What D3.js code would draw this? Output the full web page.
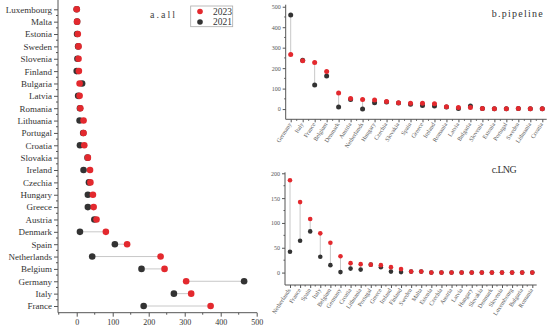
<!DOCTYPE html>
<html><head><meta charset="utf-8">
<script src="https://cdn.jsdelivr.net/npm/d3@7"></script>
<style>body{margin:0;background:#fff} svg{display:block} text{font-family:"Liberation Serif","DejaVu Serif",serif}</style>
</head><body><svg id="c" width="550" height="331"></svg>
<script>
// ---- data ----
const countriesAll = ["Luxembourg","Malta","Estonia","Sweden","Slovenia","Finland","Bulgaria","Latvia","Romania","Lithuania","Portugal","Croatia","Slovakia","Ireland","Czechia","Hungary","Greece","Austria","Denmark","Spain","Netherlands","Belgium","Germany","Italy","France"];
const all2023 = [0,1,3,5,5,6,8,8,10,19,19,21,31,37,38,45,47,55,81,140,233,244,304,318,372];
const all2021 = [0,1,1,4,2,0,15,4,9,8,18,9,30,19,34,31,31,49,9,106,43,180,465,270,186];

const pipeCountries = ["Germany","Italy","France","Belgium","Denmark","Austria","Netherlands","Hungary","Czechia","Slovakia","Spain","Greece","Ireland","Romania","Latvia","Bulgaria","Slovenia","Estonia","Portugal","Sweden","Lithuania","Croatia"];
const pipe2023 = [267,236,228,183,79,52,47,44,37,31,29,29,26,11,8,8,3,2,2,3,2,2];
const pipe2021 = [460,238,118,162,10,47,0,31,34,30,23,18,15,10,3,15,3,2,2,3,2,2];

const lngCountries = ["Netherlands","France","Spain","Italy","Belgium","Germany","Croatia","Lithuania","Portugal","Greece","Ireland","Finland","Sweden","Malta","Estonia","Czechia","Austria","Latvia","Hungary","Slovakia","Denmark","Slovenia","Luxembourg","Bulgaria","Romania"];
const lng2023 = [186,142,108,79,60,33,19,17,16,15,11,7,2,2,0,0,0,0,0,0,0,0,0,0,0];
const lng2021 = [42,64,83,32,15,1,8,6,16,11,2,1,2,2,0,0,0,0,0,0,0,0,0,0,0];

const xTicksAll = [0,100,200,300,400,500];
const yTicksPipe = [0,100,200,300,400,500];
const yTicksLng = [0,50,100,150,200];
const seriesNames = ["2023","2021"];

const RED = "#e3292e", DARK = "#333333", LINE = "#c8c8c8", AX = "#555";
const svg = d3.select("#c");

// ---- panel a ----
const ga = svg.append("g");
const xa = d3.scaleLinear().domain([-52,500]).range([58,256.7]);
const ya = d3.scalePoint().domain(countriesAll).range([9.3,306]);
const axYa = 312.7;

const ayAxis = ga.append("g").attr("transform","translate(58,0)")
  .call(d3.axisLeft(ya).tickSize(4).tickPadding(2));
ayAxis.select(".domain").remove();
ayAxis.selectAll("text").attr("font-size",9).attr("fill","#333");
ayAxis.selectAll("line").attr("stroke",AX);
const stepA = ya.step();
ga.selectAll(".mya").data(countriesAll.slice(0,-1)).join("line")
  .attr("x1",56).attr("x2",58).attr("y1",d=>ya(d)+stepA/2).attr("y2",d=>ya(d)+stepA/2).attr("stroke",AX);
ga.append("line").attr("x1",58).attr("x2",58).attr("y1",0).attr("y2",axYa).attr("stroke",AX);

const axXa = ga.append("g").attr("transform",`translate(0,${axYa})`)
  .call(d3.axisBottom(xa).tickValues(xTicksAll).tickSize(4).tickPadding(3));
axXa.select(".domain").remove();
axXa.selectAll("text").attr("font-size",8).attr("fill","#333");
axXa.selectAll("line").attr("stroke",AX);
ga.selectAll(".mxa").data([-50,50,150,250,350,450]).join("line")
  .attr("x1",d=>xa(d)).attr("x2",d=>xa(d)).attr("y1",axYa).attr("y2",axYa+2).attr("stroke",AX);
ga.append("line").attr("x1",58).attr("x2",257).attr("y1",axYa).attr("y2",axYa).attr("stroke",AX);

countriesAll.forEach((c,i)=>{
  ga.append("line").attr("x1",xa(all2021[i])).attr("x2",xa(all2023[i]))
    .attr("y1",ya(c)).attr("y2",ya(c)).attr("stroke",LINE).attr("stroke-width",1);
});
countriesAll.forEach((c,i)=>{
  ga.append("circle").attr("cx",xa(all2021[i])).attr("cy",ya(c)).attr("r",3.3).attr("fill",DARK);
});
countriesAll.forEach((c,i)=>{
  ga.append("circle").attr("cx",xa(all2023[i])).attr("cy",ya(c)).attr("r",3.3).attr("fill",RED);
});

ga.append("text").attr("x",150).attr("y",17.5).attr("font-size",10).attr("fill","#444")
  .attr("textLength",25).attr("lengthAdjust","spacing").text("a.all");
// legend
ga.append("rect").attr("x",190.7).attr("y",6).attr("width",42).attr("height",20.7)
  .attr("fill","#fff").attr("stroke","#aaa").attr("stroke-width",0.8);
[RED,DARK].forEach((col,i)=>{
  ga.append("circle").attr("cx",200).attr("cy",11.5+i*10.5).attr("r",2.8).attr("fill",col);
  ga.append("text").attr("x",232).attr("y",11.5+i*10.5).attr("dy","0.35em").attr("text-anchor","end")
    .attr("font-size",9.5).attr("fill","#333").text(seriesNames[i]);
});

// ---- generic dumbbell panel (b, c) ----
function panel(cats, v23, v21, yTicks, minorTicks, yDomain, yRange, xRange, xAxisEnd, axX, title, titleY, titleLen, r){
  const g = svg.append("g");
  const x = d3.scalePoint().domain(cats).range(xRange);
  const y = d3.scaleLinear().domain(yDomain).range(yRange);
  const axY = yRange[0];
  const yax = g.append("g").attr("transform",`translate(${axX},0)`)
    .call(d3.axisLeft(y).tickValues(yTicks).tickSize(3).tickPadding(2));
  yax.select(".domain").remove();
  yax.selectAll("text").attr("font-size",6).attr("fill","#555");
  yax.selectAll("line").attr("stroke",AX);
  g.selectAll(".my").data(minorTicks).join("line")
    .attr("x1",axX-1.5).attr("x2",axX).attr("y1",d=>y(d)).attr("y2",d=>y(d)).attr("stroke",AX);
  g.append("line").attr("x1",axX).attr("x2",axX).attr("y1",yRange[1]).attr("y2",axY).attr("stroke",AX);

  const xax = g.append("g").attr("transform",`translate(0,${axY})`)
    .call(d3.axisBottom(x).tickSize(3).tickPadding(2));
  xax.select(".domain").remove();
  xax.selectAll("line").attr("stroke",AX);
  xax.selectAll("text").attr("font-size",6).attr("fill","#555")
    .attr("text-anchor","end").attr("dy","0.3em")
    .attr("transform","translate(-1,4) rotate(-57)").attr("y",0).attr("x",0);
  const st = x.step();
  g.selectAll(".mx").data(cats.slice(0,-1)).join("line")
    .attr("x1",d=>x(d)+st/2).attr("x2",d=>x(d)+st/2).attr("y1",axY).attr("y2",axY+1.5).attr("stroke",AX);
  g.append("line").attr("x1",axX).attr("x2",xAxisEnd).attr("y1",axY).attr("y2",axY).attr("stroke",AX);

  cats.forEach((c,i)=>{
    g.append("line").attr("x1",x(c)).attr("x2",x(c)).attr("y1",y(v21[i])).attr("y2",y(v23[i]))
      .attr("stroke",LINE).attr("stroke-width",1);
  });
  cats.forEach((c,i)=>{
    g.append("circle").attr("cx",x(c)).attr("cy",y(v21[i])).attr("r",r).attr("fill",DARK);
  });
  cats.forEach((c,i)=>{
    g.append("circle").attr("cx",x(c)).attr("cy",y(v23[i])).attr("r",r).attr("fill",RED);
  });
  g.append("text").attr("x",491.7).attr("y",titleY).attr("dy","0.35em").attr("font-size",10)
    .attr("fill","#333").attr("textLength",titleLen).attr("lengthAdjust","spacing").text(title);
}

panel(pipeCountries, pipe2023, pipe2021, yTicksPipe, [50,150,250,350,450],
  [-50,510],[119.3,4.7],[290.7,542.3],546.7,285.7,"b.pipeline",13.3,51,2.5);
panel(lngCountries, lng2023, lng2021, yTicksLng, [25,75,125,175],
  [-25,202],[285,172.3],[290,532.3],536.7,285,"c.LNG",169.3,25,2.3);
</script></body></html>
